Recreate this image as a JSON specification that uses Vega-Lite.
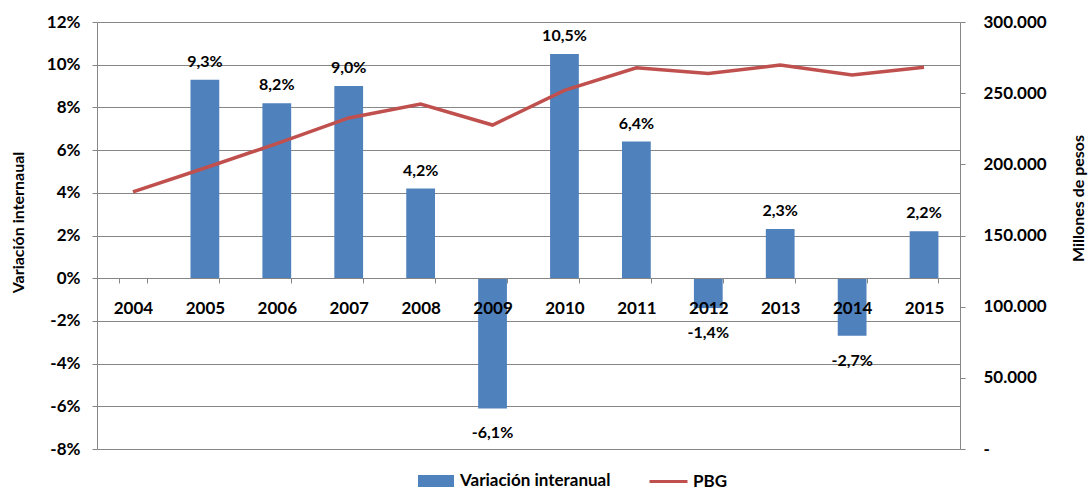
{
  "$schema": "https://vega.github.io/schema/vega-lite/v6.json",
  "width": 863,
  "height": 427,
  "autosize": {"type": "none"},
  "padding": {"left": 97, "top": 22, "right": 131, "bottom": 41},
  "background": "white",
  "config": {
    "locale": {"number": {"decimal": ",", "thousands": ".", "grouping": [3], "currency": ["$", ""], "minus": "-"}},
    "font": "Lato",
    "view": {"stroke": null},
    "axis": {
      "labelFont": "Lato", "labelFontWeight": "bold", "labelFontSize": 17, "labelColor": "#000000",
      "titleFont": "Lato", "titleFontWeight": "bold", "titleFontSize": 16, "titleColor": "#000000",
      "domainColor": "#868686", "tickColor": "#868686", "gridColor": "#868686", "tickSize": 5
    },
    "legend": {
      "labelFont": "Lato", "labelFontWeight": "bold", "labelFontSize": 17, "labelColor": "#000000", "padding": 0
    }
  },
  "data": {
    "values": [
      {"year": "2004", "var": null, "pbg": 180600},
      {"year": "2005", "var": 0.093, "pbg": 197400},
      {"year": "2006", "var": 0.082, "pbg": 214600},
      {"year": "2007", "var": 0.090, "pbg": 232600},
      {"year": "2008", "var": 0.042, "pbg": 242400},
      {"year": "2009", "var": -0.061, "pbg": 227600},
      {"year": "2010", "var": 0.105, "pbg": 252000},
      {"year": "2011", "var": 0.064, "pbg": 267800},
      {"year": "2012", "var": -0.014, "pbg": 263800},
      {"year": "2013", "var": 0.023, "pbg": 269800},
      {"year": "2014", "var": -0.027, "pbg": 262800},
      {"year": "2015", "var": 0.022, "pbg": 268200}
    ]
  },
  "encoding": {
    "x": {
      "field": "year", "type": "nominal",
      "scale": {"domain": ["2004", "2005", "2006", "2007", "2008", "2009", "2010", "2011", "2012", "2013", "2014", "2015"], "paddingInner": 0.6, "paddingOuter": 0.3},
      "axis": {"title": null, "labelAngle": 0, "offset": -171, "tickBand": "extent", "labelPadding": 17, "zindex": 1, "grid": false}
    }
  },
  "layer": [
    {
      "layer": [
        {
          "mark": {"type": "bar"},
          "encoding": {
            "y": {
              "field": "var", "type": "quantitative",
              "scale": {"domain": [-0.08, 0.12], "nice": false},
              "axis": {"title": "Variación internaual", "format": ".0%", "values": [-0.08, -0.06, -0.04, -0.02, 0, 0.02, 0.04, 0.06, 0.08, 0.1, 0.12], "grid": true, "labelPadding": 12, "titlePadding": 20, "titleY": 200, "titleAlign": "center", "zindex": 0}
            },
            "color": {
              "datum": "Variación interanual",
              "scale": {"range": ["#4F81BD"]},
              "legend": {"title": null, "orient": "none", "legendX": 327, "legendY": 447, "symbolType": "M-1.5,-0.5H1.5V0.5H-1.5Z", "symbolSize": 576, "symbolStrokeWidth": 0, "labelOffset": 12}
            }
          }
        },
        {
          "transform": [{"filter": "datum['var'] > 0"}],
          "mark": {"type": "text", "baseline": "middle", "dy": -18, "fontSize": 16, "fontWeight": "bold", "font": "Lato", "color": "#000000"},
          "encoding": {
            "y": {"field": "var", "type": "quantitative"},
            "text": {"field": "var", "type": "quantitative", "format": ".1%"}
          }
        },
        {
          "transform": [{"filter": "datum['var'] < 0"}],
          "mark": {"type": "text", "baseline": "middle", "dy": 25, "fontSize": 16, "fontWeight": "bold", "font": "Lato", "color": "#000000"},
          "encoding": {
            "y": {"field": "var", "type": "quantitative"},
            "text": {"field": "var", "type": "quantitative", "format": ".1%"}
          }
        }
      ]
    },
    {
      "mark": {"type": "line", "strokeWidth": 3.5},
      "encoding": {
        "y": {
          "field": "pbg", "type": "quantitative",
          "scale": {"domain": [0, 300000], "nice": false},
          "axis": {"orient": "right", "title": "Millones de pesos", "titleAngle": 270, "format": ",.0f", "labelExpr": "datum.value === 0 ? '-' : datum.label", "values": [0, 50000, 100000, 150000, 200000, 250000, 300000], "grid": false, "labelPadding": 18, "titlePadding": 40, "titleY": 176, "titleAlign": "center"}
        },
        "stroke": {
          "datum": "PBG",
          "scale": {"range": ["#C0504D"]},
          "legend": {"title": null, "orient": "none", "legendX": 551, "legendY": 439, "symbolType": "stroke", "symbolSize": 1444, "symbolStrokeWidth": 3, "labelOffset": 4}
        }
      }
    }
  ],
  "resolve": {"scale": {"y": "independent"}}
}
